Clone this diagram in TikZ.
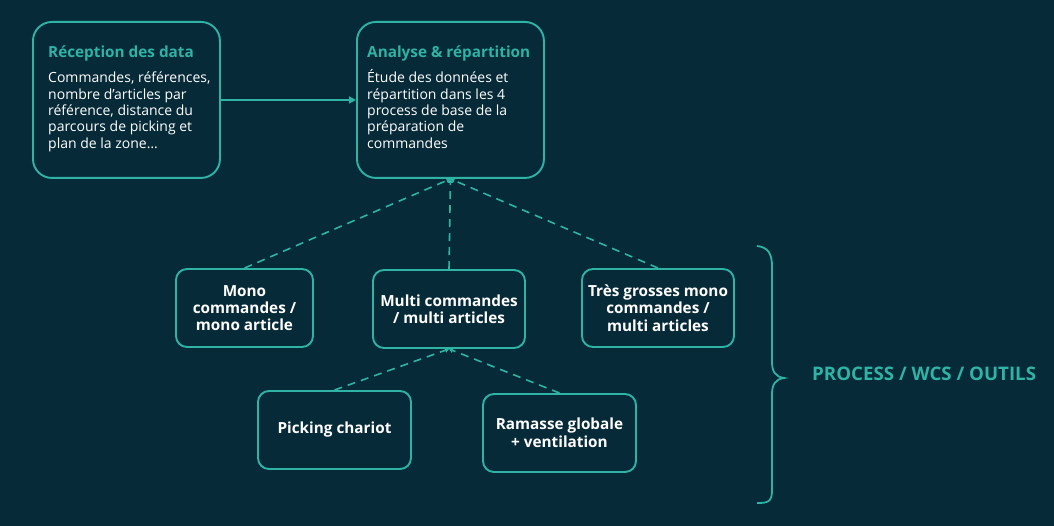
\documentclass[tikz,border=0pt]{standalone}
\usepackage{fontspec}
\setmainfont{Open Sans}
\usetikzlibrary{arrows.meta}
\definecolor{bgc}{HTML}{072A39}
\definecolor{acc}{HTML}{2FB3A4}
\begin{document}
\begin{tikzpicture}[x=1pt,y=-1pt,
  bigbox/.style={draw=acc, line width=1.9pt, rounded corners=19pt, inner sep=0pt,
    minimum width=187pt, minimum height=156pt, anchor=north west},
  smallbox/.style={draw=acc, line width=1.9pt, rounded corners=11pt, inner sep=0pt,
    minimum width=137pt, minimum height=78pt, align=center, text=white,
    font=\fontsize{15.3}{17.3}\selectfont\bfseries},
  titletext/.style={anchor=base west, inner sep=0pt, text=acc,
    font=\fontsize{15.3}{17}\selectfont\bfseries},
  bodytext/.style={anchor=base west, inner sep=0pt, text=white,
    font=\fontsize{14}{16}\selectfont},
  link/.style={draw=acc, line width=1.8pt},
  dashlink/.style={draw=acc, line width=1.6pt, dash pattern=on 8pt off 6pt,
    -{Triangle[length=4pt,width=5pt]}}]
\fill[bgc] (0,0) rectangle (1054,526);
\useasboundingbox (0,0) rectangle (1054,526);

% top boxes
\node[bigbox] (a) at (32,21) {};
\node[bigbox] (b) at (356,21) {};

\node[titletext] (at) at (48,58) {Réception des data};
\node[bodytext] (a1) at (48,83) {Commandes, références,};
\node[bodytext] (a2) at (48,99.3) {nombre d’articles par};
\node[bodytext] (a3) at (48,115.6) {référence, distance du};
\node[bodytext] (a4) at (48,131.9) {parcours de picking et};
\node[bodytext] (a5) at (48,148.2) {plan de la zone\ldots};

\node[titletext] (bt) at (367,58) {Analyse \& répartition};
\node[bodytext] (b1) at (367,83) {Étude des données et};
\node[bodytext] (b2) at (367,99.3) {répartition dans les 4};
\node[bodytext] (b3) at (367,115.6) {process de base de la};
\node[bodytext] (b4) at (367,131.9) {préparation de};
\node[bodytext] (b5) at (367,148.2) {commandes};

% middle boxes
\node[smallbox] (mono) at (244.5,308) {Mono\\commandes /\\mono article};
\node[smallbox, minimum width=152pt] (multi) at (449,309) {Multi commandes\\/ multi articles};
\node[smallbox, minimum width=152pt] (tres) at (658,308) {Très grosses mono\\commandes /\\multi articles};

% bottom boxes
\node[smallbox, minimum width=153pt] (pick) at (334.5,430) {Picking chariot};
\node[smallbox, minimum width=153pt, font=\fontsize{15.3}{18}\selectfont\bfseries] (ram) at (559.5,433) {Ramasse globale\\+ ventilation};

% connectors
\draw[link, -{Triangle[length=7pt,width=7pt]}] (a.east) -- (b.west);
\draw[dashlink] (mono.north) -- (b.south);
\draw[dashlink] (multi.north) -- (b.south);
\draw[dashlink] (tres.north) -- (b.south);
\draw[dashlink] (pick.north) -- (multi.south);
\draw[dashlink] (ram.north) -- (multi.south);

% brace
\draw[acc, line width=1.8pt] (757,246) .. controls (768,247) and (772,254) .. (772,266)
  -- (772,362) .. controls (772,372) and (776,377) .. (784,378)
  .. controls (776,379) and (772,384) .. (772,394)
  -- (772,490) .. controls (772,502) and (768,503) .. (757,503);

\node[anchor=west, inner sep=0pt, text=acc, font=\fontsize{18.7}{21}\selectfont\bfseries] (proc) at (812,374) {PROCESS / WCS / OUTILS};
\end{tikzpicture}
\end{document}
